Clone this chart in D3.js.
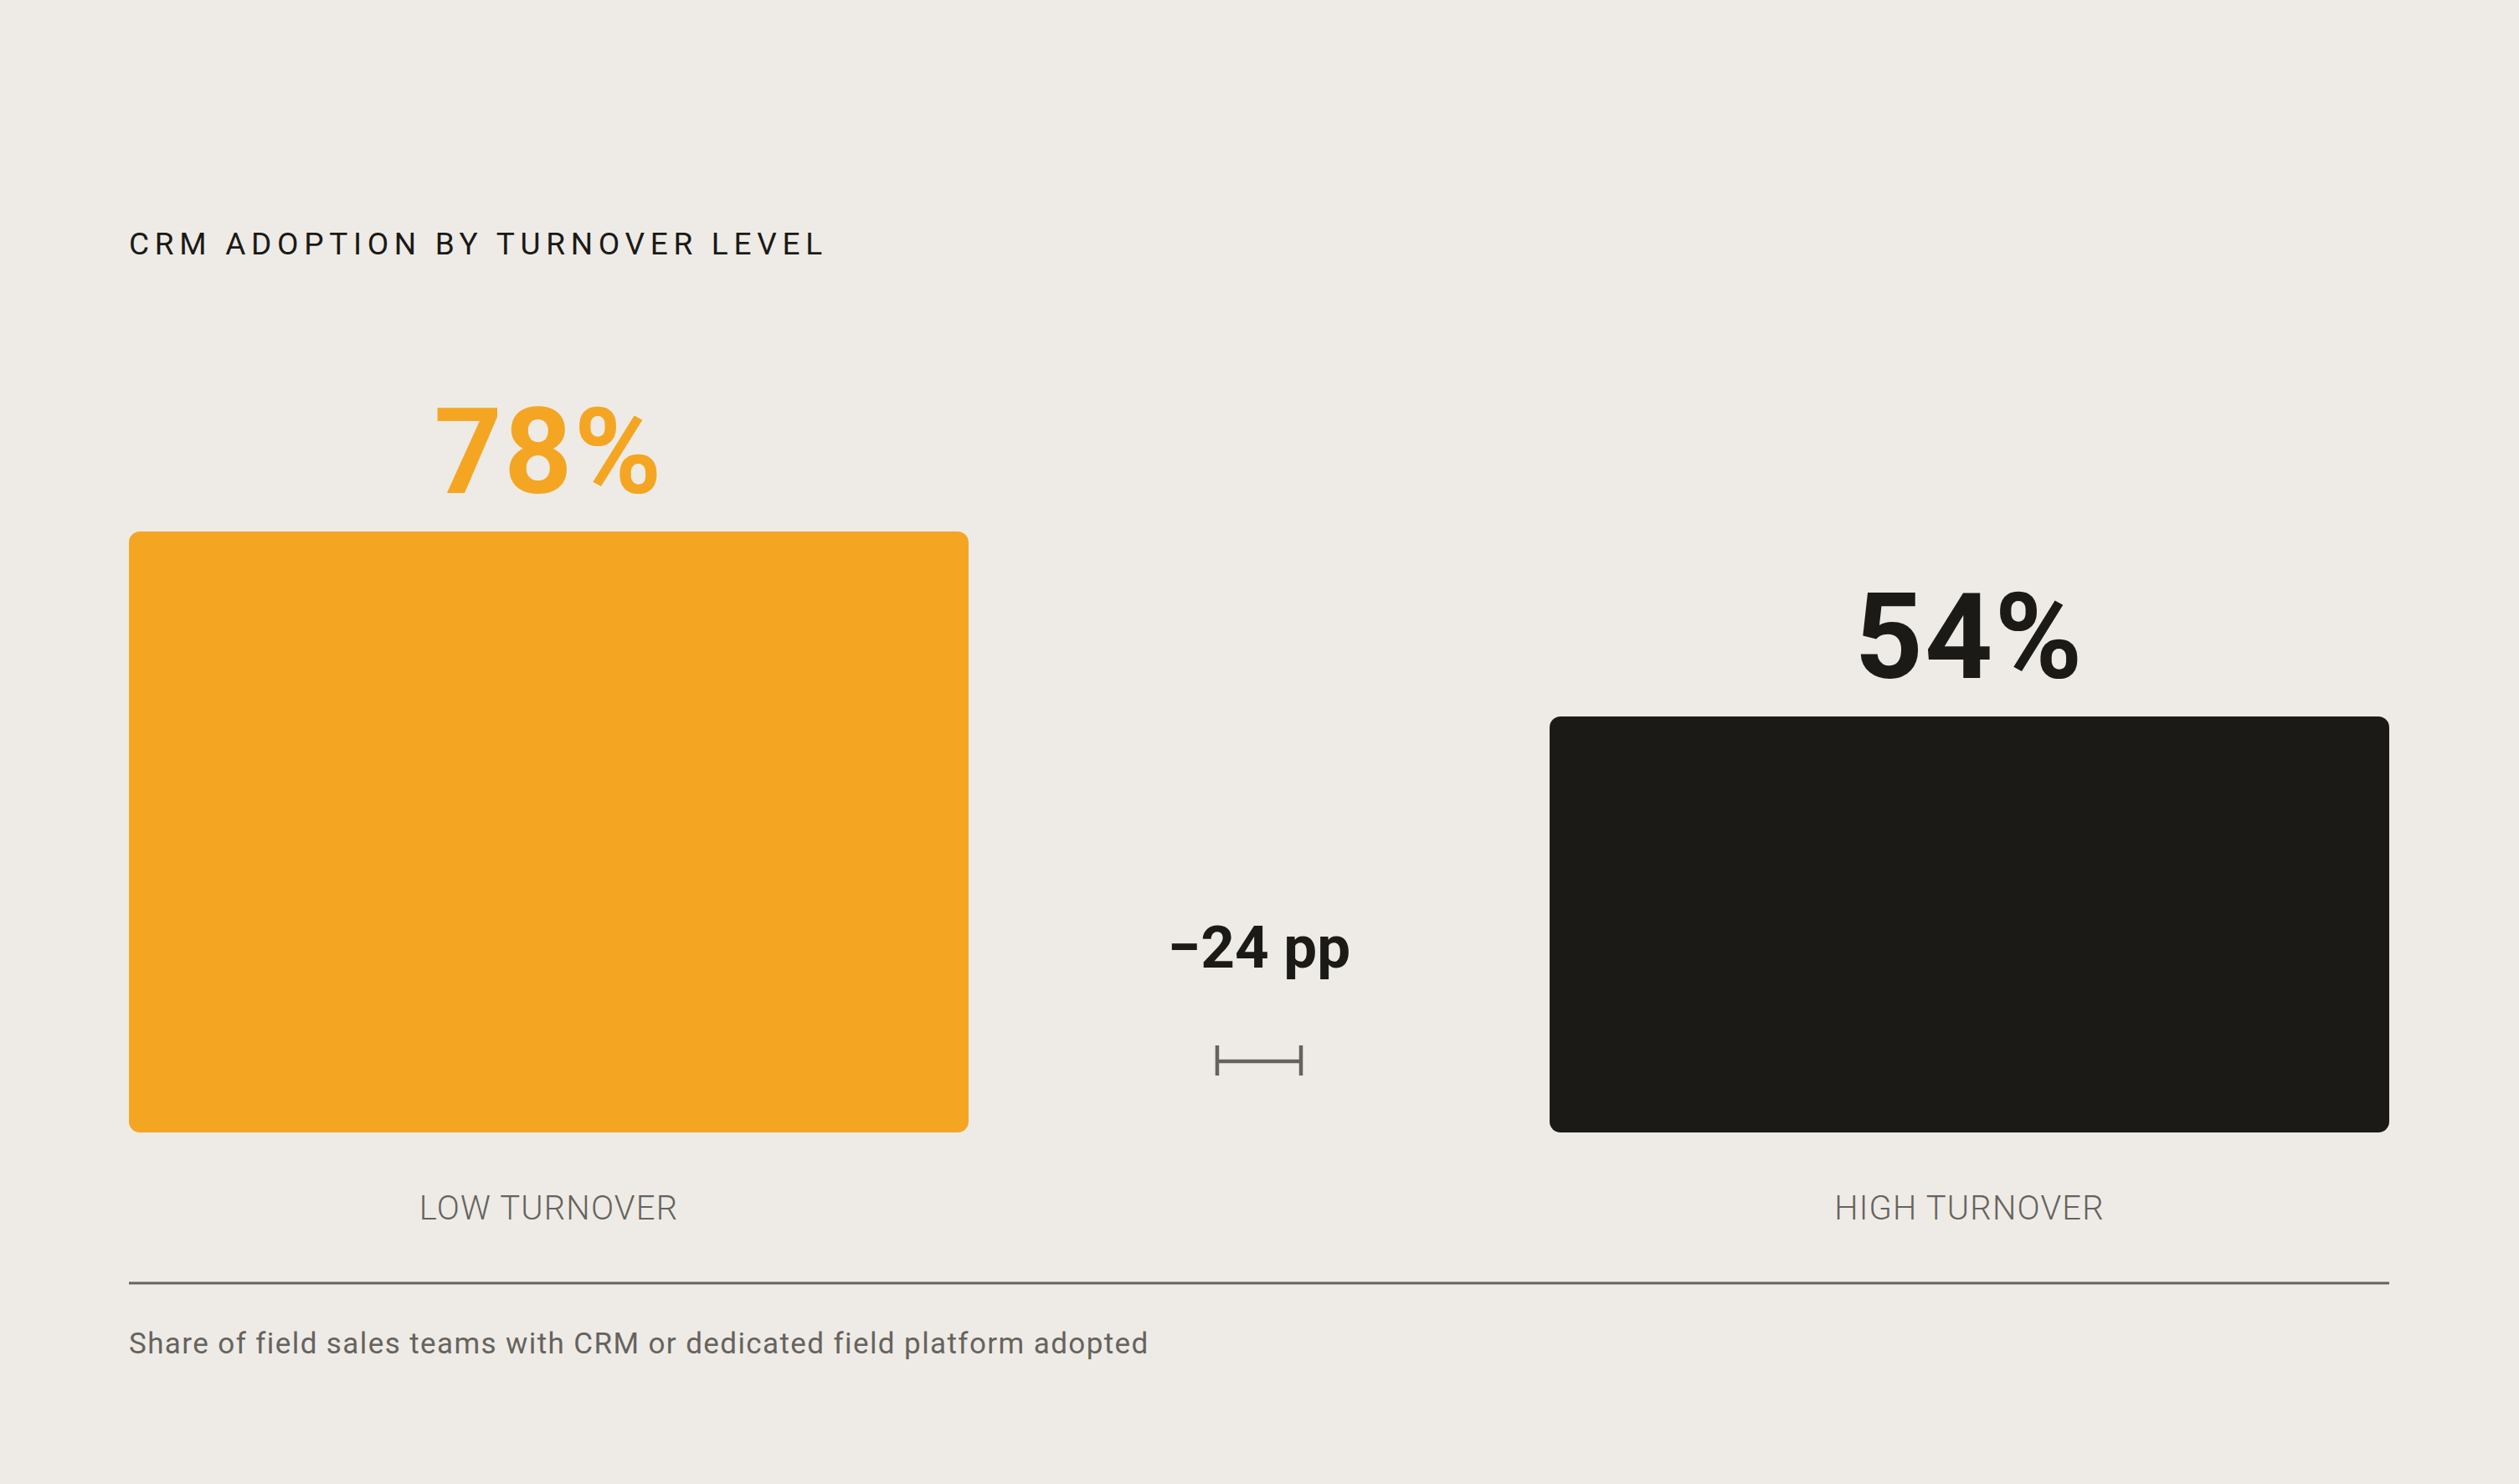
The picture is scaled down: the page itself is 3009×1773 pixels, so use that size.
<!DOCTYPE html>
<html>
<head>
<meta charset="utf-8">
<script src="https://cdn.jsdelivr.net/npm/d3@7"></script>
<style>
  html, body { margin: 0; padding: 0; background: #EEEBE6; }
  svg { display: block; }
</style>
</head>
<body>
<div id="chart"></div>
<script>
// data
const categories = ["LOW TURNOVER", "HIGH TURNOVER"];
const values = [78, 54];
const valueLabels = ["78%", "54%"];
const barColors = ["#F4A623", "#1B1A17"];
const diffLabel = "\u221224 pp";
const title = "CRM ADOPTION BY TURNOVER LEVEL";
const footnote = "Share of field sales teams with CRM or dedicated field platform adopted";

const width = 3009, height = 1773;
const margin = {left: 154, right: 155};
const baseY = 1353;

const svg = d3.select("#chart").append("svg")
    .attr("width", width)
    .attr("height", height);

svg.append("rect")
    .attr("width", width)
    .attr("height", height)
    .attr("fill", "#EEEBE6");

let xScale = d3.scaleBand()
    .domain(categories)
    .range([margin.left, width - margin.right])
    .paddingInner(0.409)
    .paddingOuter(0);

let yScale = d3.scaleLinear()
    .domain([0, 100])
    .range([baseY, baseY - 920.5]);

// title
svg.append("text")
    .attr("x", margin.left)
    .attr("y", 304)
    .attr("font-family", "Roboto")
    .attr("font-weight", 400)
    .attr("font-size", 37)
    .attr("letter-spacing", 6.7)
    .attr("fill", "#1B1A17")
    .text(title);

// bars
let bars = svg.append("g").attr("id", "bars");
bars.selectAll("rect")
    .data(values)
    .enter().append("rect")
    .attr("x", (d, i) => xScale(categories[i]))
    .attr("y", d => yScale(d))
    .attr("width", xScale.bandwidth())
    .attr("height", d => yScale(0) - yScale(d))
    .attr("rx", 13)
    .attr("fill", (d, i) => barColors[i]);

// value labels
bars.selectAll(".value-label")
    .data(values)
    .enter().append("text")
    .attr("class", "value-label")
    .attr("x", (d, i) => xScale(categories[i]) + xScale.bandwidth() / 2)
    .attr("y", d => yScale(d) - 46)
    .attr("text-anchor", "middle")
    .attr("font-family", "Roboto")
    .attr("font-weight", 700)
    .attr("font-size", 142)
    .attr("letter-spacing", 2)
    .attr("fill", (d, i) => barColors[i])
    .text((d, i) => valueLabels[i]);

// category labels
bars.selectAll(".cat-label")
    .data(categories)
    .enter().append("text")
    .attr("class", "cat-label")
    .attr("x", d => xScale(d) + xScale.bandwidth() / 2)
    .attr("y", 1457)
    .attr("text-anchor", "middle")
    .attr("font-family", "Roboto")
    .attr("font-weight", 300)
    .attr("font-size", 40)
    .attr("letter-spacing", 1.2)
    .attr("fill", "#66635E")
    .text(d => d);

// difference annotation
let midX = (xScale(categories[0]) + xScale.bandwidth() + xScale(categories[1])) / 2;
svg.append("text")
    .attr("x", midX)
    .attr("y", 1156)
    .attr("text-anchor", "middle")
    .attr("font-family", "Roboto")
    .attr("font-weight", 700)
    .attr("font-size", 71)
    .attr("fill", "#1B1A17")
    .text(diffLabel);

let bracketScale = d3.scaleLinear().domain([0, 100]).range([0, 417]);
let bw = bracketScale(values[0] - values[1]);
let bracket = svg.append("g")
    .attr("transform", "translate(" + midX + ",1268)")
    .attr("stroke", "#66635E")
    .attr("stroke-width", 4.5);
bracket.append("line").attr("x1", -bw / 2).attr("x2", bw / 2).attr("y1", 0).attr("y2", 0);
bracket.append("line").attr("x1", -bw / 2).attr("x2", -bw / 2).attr("y1", -19).attr("y2", 17);
bracket.append("line").attr("x1", bw / 2).attr("x2", bw / 2).attr("y1", -19).attr("y2", 17);

// rule
svg.append("line")
    .attr("x1", margin.left)
    .attr("x2", width - margin.right)
    .attr("y1", 1533)
    .attr("y2", 1533)
    .attr("stroke", "#66635E")
    .attr("stroke-width", 3);

// footnote
svg.append("text")
    .attr("x", margin.left)
    .attr("y", 1617)
    .attr("font-family", "Roboto")
    .attr("font-weight", 400)
    .attr("font-size", 35)
    .attr("letter-spacing", 1.4)
    .attr("fill", "#66635E")
    .text(footnote);
</script>
</body>
</html>
